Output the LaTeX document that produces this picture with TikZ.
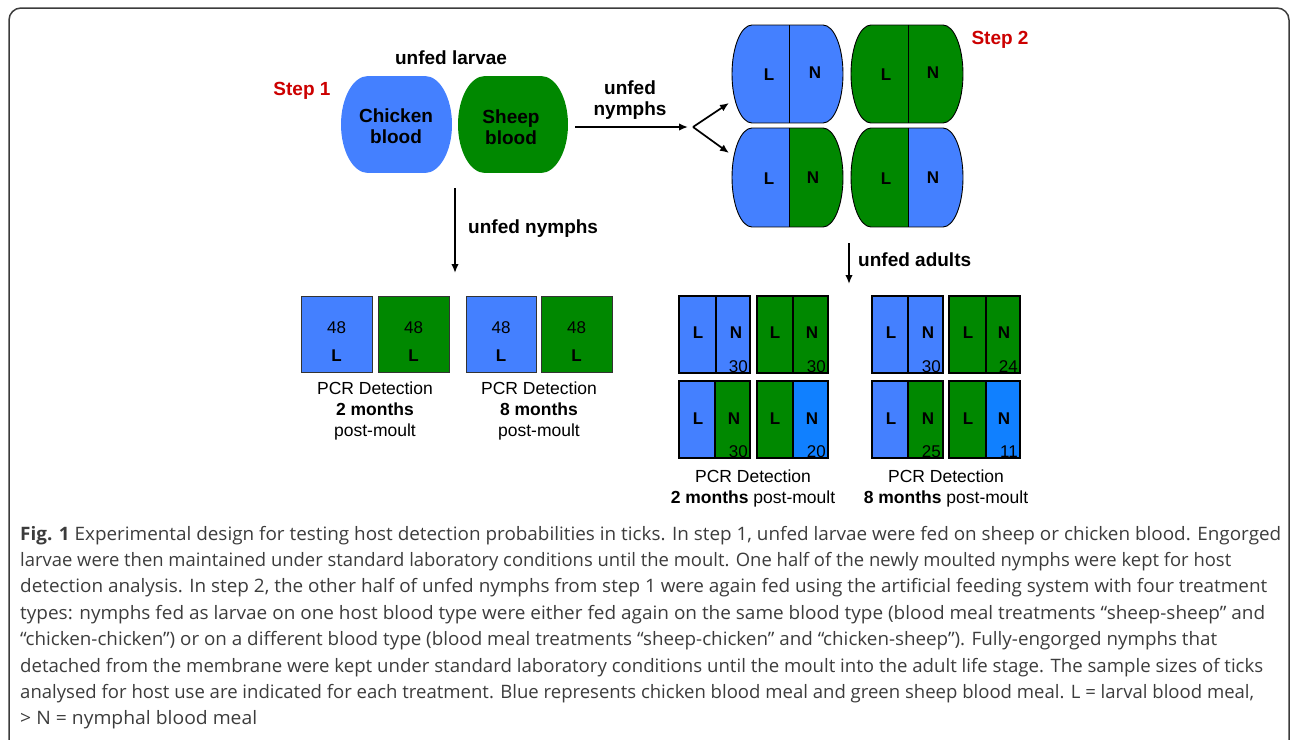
\documentclass[tikz,border=0pt]{standalone}
\usepackage{fontspec}
\usepackage{graphicx}
\setmainfont{Liberation Sans}
\newfontfamily\capfont{Open Sans}
\usetikzlibrary{arrows.meta}
\definecolor{cblue}{RGB}{68,128,255}
\definecolor{cbluetwo}{RGB}{16,128,255}
\definecolor{sgreen}{RGB}{0,136,0}
\definecolor{stepred}{RGB}{204,0,0}
\definecolor{capgray}{RGB}{60,60,60}
\definecolor{framegray}{RGB}{60,60,60}
\newsavebox\capsave
\newcommand\fitw[2]{\sbox\capsave{#2}\scalebox{\fpeval{#1/(\the\wd\capsave)}}[1]{\usebox\capsave}}
% barrel: x1 x2 y1 y2 xdiv colL colR d outline
\newcommand\barrel[9]{%
 \pgfmathsetmacro\bym{(#3+#4)/2}%
 \pgfmathsetmacro\byq{0.225*(#4-#3)}%
 \pgfmathsetmacro\bya{#3+\byq}\pgfmathsetmacro\byb{#4-\byq}%
 \pgfmathsetmacro\bxa{#1+#8}\pgfmathsetmacro\bxb{#2-#8}%
 \pgfmathsetmacro\bxc{#1+0.45*#8}\pgfmathsetmacro\bxd{#2-0.45*#8}%
 \def\bp{(\bxa,#3) -- (\bxb,#3) .. controls (\bxd,#3) and (#2,\bya) .. (#2,\bym) .. controls (#2,\byb) and (\bxd,#4) .. (\bxb,#4) -- (\bxa,#4) .. controls (\bxc,#4) and (#1,\byb) .. (#1,\bym) .. controls (#1,\bya) and (\bxc,#3) .. cycle}%
 \begin{scope}\clip \bp; \fill[#6] (#1,#3) rectangle (#5,#4); \fill[#7] (#5,#3) rectangle (#2,#4);\end{scope}%
 \path[#9] \bp;%
}
% grid box: x1 x2 xdiv y1 y2 colL colR
\newcommand\gbox[7]{%
 \fill[#6] (#1,#4) rectangle (#3,#5);
 \fill[#7] (#3,#4) rectangle (#2,#5);
 \draw[line width=1.1pt] (#1,#4) rectangle (#2,#5) (#3,#4) -- (#3,#5);
}
\begin{document}
\begin{tikzpicture}[x=1pt,y=-1pt,
  big/.style={font=\fontsize{19}{21}\selectfont\bfseries, align=center, inner sep=0},
  steplab/.style={font=\fontsize{19}{21}\selectfont\bfseries, text=stepred, inner sep=0},
  ln/.style={font=\fontsize{17}{20}\selectfont\bfseries, inner sep=0},
  num/.style={font=\fontsize{17}{20}\selectfont, inner sep=0},
  pcr/.style={font=\fontsize{17.5}{21}\selectfont, align=center, inner sep=0},
  arr/.style={line width=1.7pt, -{Latex[length=9pt,width=7.5pt]}},
  capt/.style={anchor=base west, inner sep=0, font=\capfont\fontsize{18.5}{22}\selectfont, text=capgray},
  ]
\useasboundingbox (0,0) rectangle (1290,739);
\draw[framegray, line width=1.5pt, rounded corners=12pt] (9,8) rectangle (1289,760);

% Step 1
\node[steplab] (s1) at (302,91) {Step 1};
\node[big] (ul) at (451,58) {unfed larvae};
\barrel{341}{452}{76}{173}{452}{cblue}{cblue}{27}{draw=none}
\barrel{458}{568}{76}{173}{568}{sgreen}{sgreen}{27}{draw=none}
\node[big] (chk) at (396,126) {Chicken\\blood};
\node[big] (shp) at (511,127) {Sheep\\blood};

% arrow to step 2
\coordinate (a1) at (575,127);
\coordinate (a1e) at (688,127);
\coordinate (fork) at (693,127);
\coordinate (f1) at (729,103);
\coordinate (f2) at (729,153);
\draw[arr] (a1) -- (a1e);
\draw[arr] (fork) -- (f1);
\draw[arr] (fork) -- (f2);
\node[big] (un1) at (630,100) {unfed\\nymphs};

% Step 2
\node[steplab] (s2) at (1000,40) {Step 2};
\barrel{732}{843}{25}{123}{789}{cblue}{cblue}{20}{draw=black,line width=0.9pt}
\barrel{851}{963}{25}{123}{908}{sgreen}{sgreen}{20}{draw=black,line width=0.9pt}
\barrel{732}{843}{128}{227}{789}{cblue}{sgreen}{20}{draw=black,line width=0.9pt}
\barrel{851}{963}{128}{227}{908}{sgreen}{cblue}{20}{draw=black,line width=0.9pt}
\draw[line width=0.9pt] (789,25) -- (789,123) (908,25) -- (908,123) (789,128) -- (789,227) (908,128) -- (908,227);
\node[ln] (b1l) at (769,75) {L};
\node[ln] (b1n) at (815,73) {N};
\node[ln] (b2l) at (886,75) {L};
\node[ln] (b2n) at (933,73) {N};
\node[ln] (b3l) at (769,179) {L};
\node[ln] (b3n) at (813,178) {N};
\node[ln] (b4l) at (886,179) {L};
\node[ln] (b4n) at (933,178) {N};

% down arrow 1
\coordinate (d1s) at (455,188);
\coordinate (d1e) at (455,273);
\draw[arr] (d1s) -- (d1e);
\node[big, anchor=west] (un2) at (468,229) {unfed nymphs};

% left boxes
\foreach \xa/\xb/\c [count=\i] in {301/372/cblue, 378/449/sgreen, 466/536/cblue, 541/612/sgreen}{
  \fill[\c] (\xa,296) rectangle (\xb,372);
  \draw[line width=0.9pt, black!80] (\xa,296) rectangle (\xb,372);
  \node[num] (n\i) at ({(\xa+\xb)/2},328) {48};
  \node[ln] (l\i) at ({(\xa+\xb)/2},356) {L};
}
\node[pcr] (p1) at (375,411) {PCR Detection\\\textbf{2 months}\\post-moult};
\node[pcr] (p2) at (539,411) {PCR Detection\\\textbf{8 months}\\post-moult};

% down arrow 2
\coordinate (d2s) at (849,243);
\coordinate (d2e) at (849,284);
\draw[arr] (d2s) -- (d2e);
\node[big, anchor=west] (ua) at (858,260) {unfed adults};

% grid
\gbox{679}{750}{716}{296}{373}{cblue}{cblue}
\gbox{757}{828}{793}{296}{373}{sgreen}{sgreen}
\gbox{679}{750}{715}{381}{458}{cblue}{sgreen}
\gbox{757}{828}{793}{381}{458}{sgreen}{cbluetwo}
\gbox{872}{943}{908}{296}{373}{cblue}{cblue}
\gbox{949}{1020}{986}{296}{373}{sgreen}{sgreen}
\gbox{872}{943}{908}{381}{458}{cblue}{sgreen}
\gbox{949}{1020}{986}{381}{458}{sgreen}{cbluetwo}
\foreach \xl/\xn/\y/\nm [count=\i] in {698/736/333/30, 775/812/333/30, 698/734/419/30, 775/812/419/20,
  891/928/333/30, 968/1004/333/24, 891/928/419/25, 968/1004/419/11}{
  \node[ln] (gl\i) at (\xl,\y) {L};
  \node[ln] (gn\i) at (\xn,\y) {N};
}
\node[num, anchor=base east] (c1) at (748,372) {30};
\node[num, anchor=base east] (c2) at (826,372) {30};
\node[num, anchor=base east] (c3) at (748,457) {30};
\node[num, anchor=base east] (c4) at (826,457) {20};
\node[num, anchor=base east] (c5) at (941,372) {30};
\node[num, anchor=base east] (c6) at (1018,372) {24};
\node[num, anchor=base east] (c7) at (941,457) {25};
\node[num, anchor=base east] (c8) at (1018,457) {11};
\node[pcr] (p3) at (753,488) {PCR Detection\\\textbf{2 months} post-moult};
\node[pcr] (p4) at (946,488) {PCR Detection\\\textbf{8 months} post-moult};

% caption
\node[capt] (cap1) at (20,540) {\fitw{1261}{\textbf{Fig. 1} Experimental design for testing host detection probabilities in ticks. In step 1, unfed larvae were fed on sheep or chicken blood. Engorged}};
\node[capt] (cap2) at (20,566.4) {\fitw{1211}{larvae were then maintained under standard laboratory conditions until the moult. One half of the newly moulted nymphs were kept for host}};
\node[capt] (cap3) at (20,592.8) {\fitw{1247}{detection analysis. In step 2, the other half of unfed nymphs from step 1 were again fed using the artificial feeding system with four treatment}};
\node[capt] (cap4) at (20,619.2) {\fitw{1245}{types: nymphs fed as larvae on one host blood type were either fed again on the same blood type (blood meal treatments “sheep-sheep” and}};
\node[capt] (cap5) at (20,645.6) {\fitw{1197}{“chicken-chicken”) or on a different blood type (blood meal treatments “sheep-chicken” and “chicken-sheep”). Fully-engorged nymphs that}};
\node[capt] (cap6) at (20,672) {\fitw{1243}{detached from the membrane were kept under standard laboratory conditions until the moult into the adult life stage. The sample sizes of ticks}};
\node[capt] (cap7) at (20,698.4) {\fitw{1234}{analysed for host use are indicated for each treatment. Blue represents chicken blood meal and green sheep blood meal. L = larval blood meal,}};
\node[capt] (cap8) at (20,724.8) {\fitw{237}{> N = nymphal blood meal}};
\end{tikzpicture}
\end{document}
